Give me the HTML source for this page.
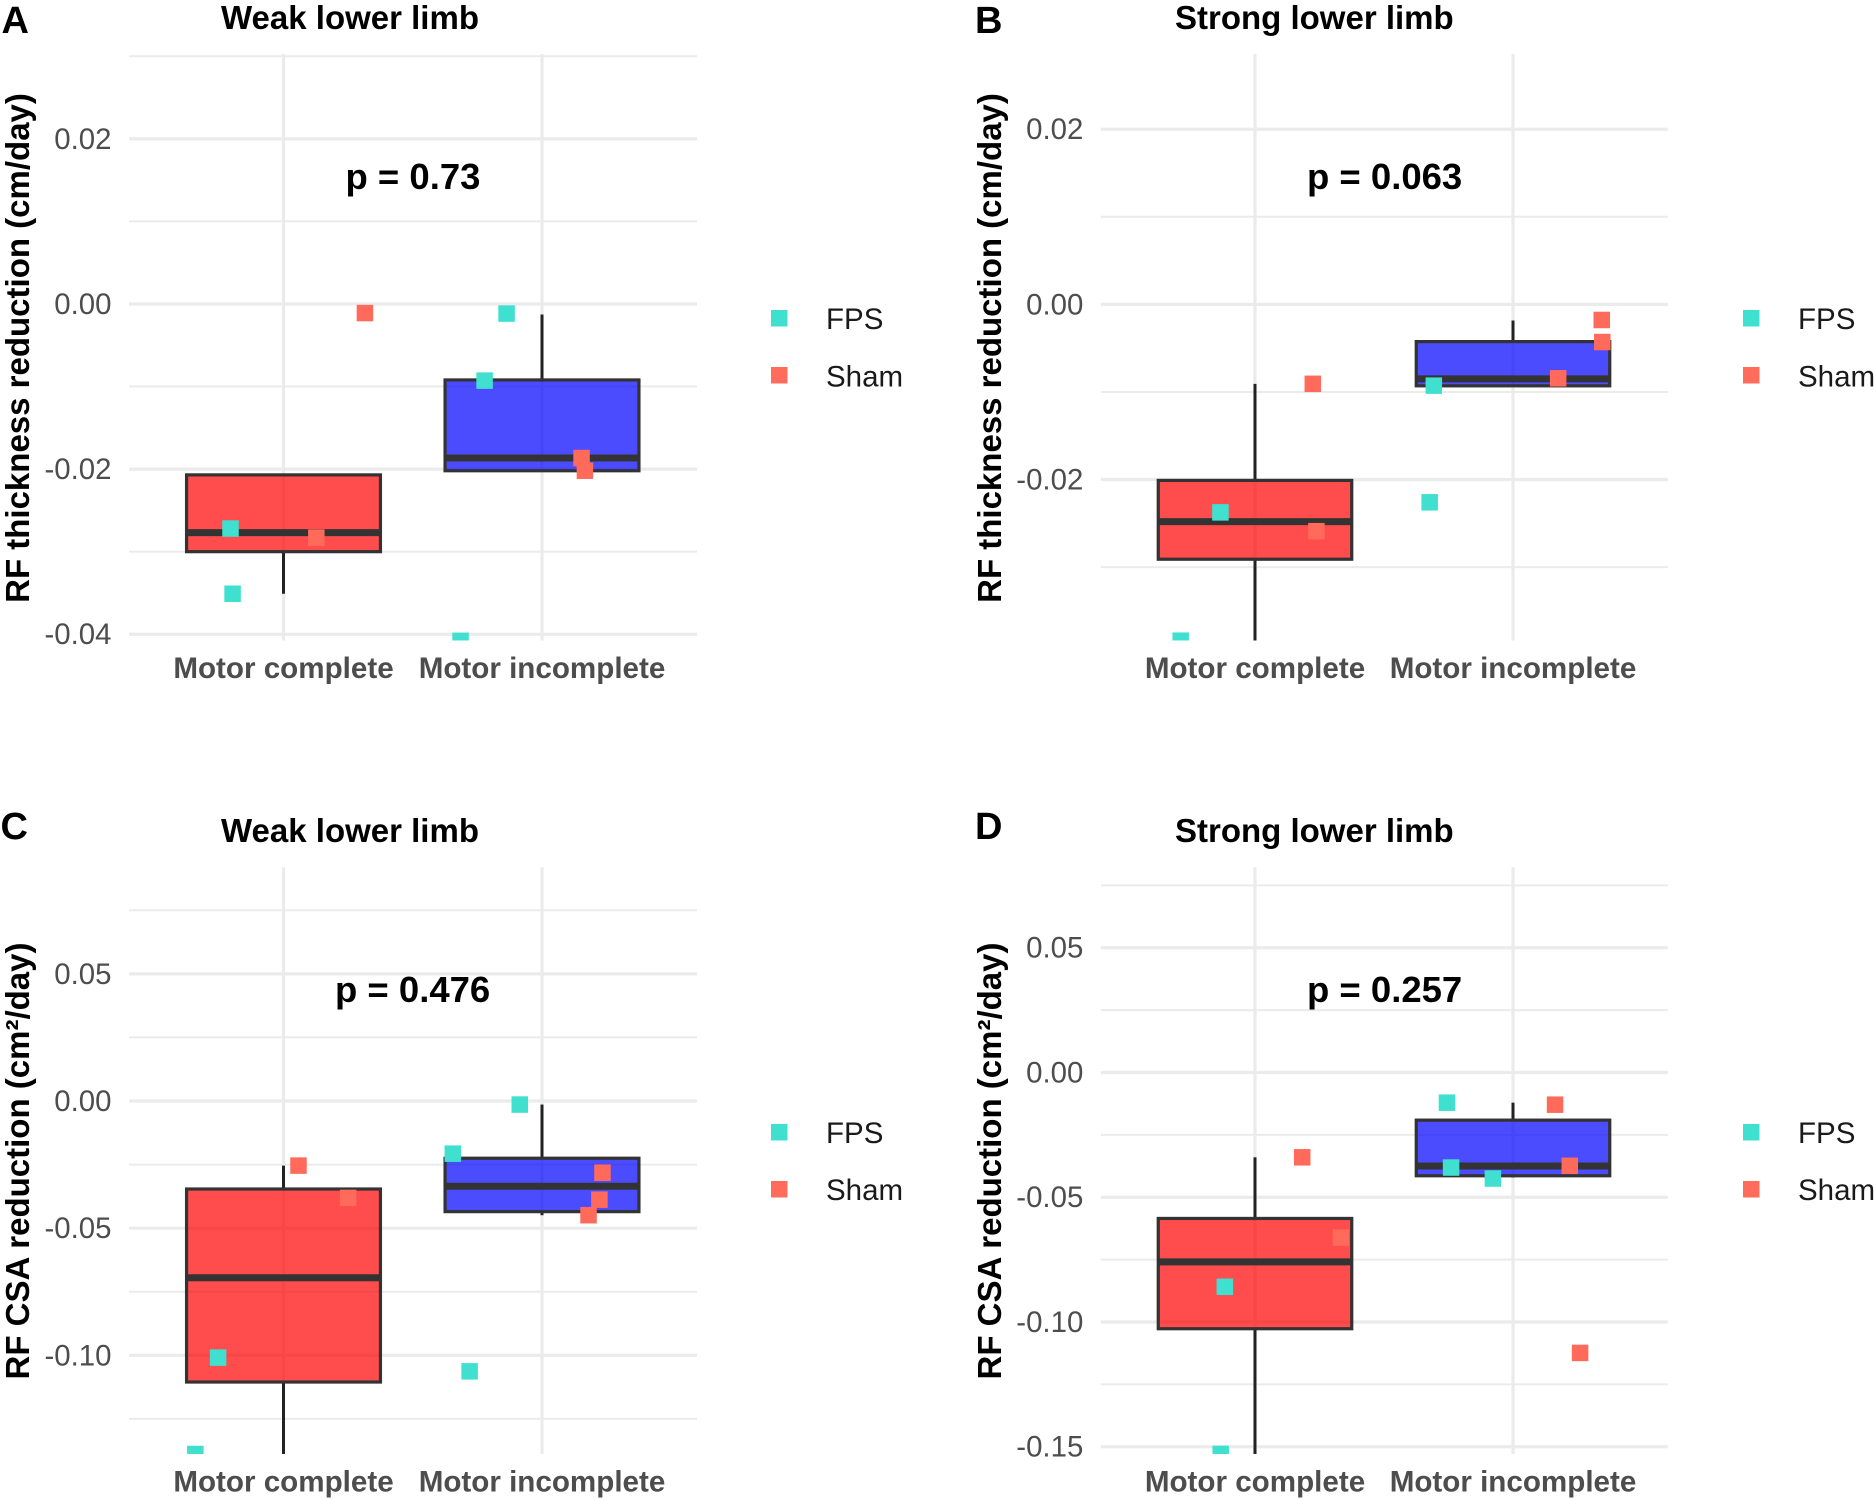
<!DOCTYPE html>
<html lang="en">
<head>
<meta charset="utf-8">
<title>RF thickness and CSA reduction</title>
<style>
html,body{margin:0;padding:0;background:#fff;width:1874px;height:1500px;overflow:hidden}
svg{display:block}
text{font-family:"Liberation Sans",Arial,sans-serif}
.panel-letter{font-size:38px;font-weight:700;fill:#000}
.title{font-size:33px;font-weight:700;fill:#000}
.p-label{font-size:36.5px;font-weight:700;fill:#000}
.y-title{font-size:33px;font-weight:700;fill:#000;text-anchor:middle}
.legend-text{font-size:29.5px;fill:#1a1a1a}
.tick{font-size:29.4px;fill:#4d4d4d;text-anchor:end}
.cat{font-size:29.6px;font-weight:700;fill:#4d4d4d;text-anchor:middle}
</style>
</head>
<body>
<svg id="figure" xmlns="http://www.w3.org/2000/svg" width="1874" height="1500" viewBox="0 0 1874 1500">
  <rect width="1874" height="1500" fill="#fff"/>

  <g id="panel-a">
    <text class="panel-letter" x="1.5" y="33">A</text>
    <text class="title" x="221" y="29">Weak lower limb</text>
    <text class="y-title" transform="translate(29,348) rotate(-90)">RF thickness reduction (cm/day)</text>
    <g class="marks"></g>
    <text class="p-label" x="345.5" y="189">p = 0.73</text>
    <rect x="771" y="310" width="16.5" height="16.5" fill="#40e0d0"/>
    <text class="legend-text" x="826" y="329">FPS</text>
    <rect x="771" y="367" width="16.5" height="16.5" fill="#ff6c5b"/>
    <text class="legend-text" x="826" y="386.5">Sham</text>
  </g>

  <g id="panel-b">
    <text class="panel-letter" x="975" y="33">B</text>
    <text class="title" x="1175" y="29">Strong lower limb</text>
    <text class="y-title" transform="translate(1001,348) rotate(-90)">RF thickness reduction (cm/day)</text>
    <g class="marks"></g>
    <text class="p-label" x="1307" y="189">p = 0.063</text>
    <rect x="1743" y="310" width="16.5" height="16.5" fill="#40e0d0"/>
    <text class="legend-text" x="1798" y="329">FPS</text>
    <rect x="1743" y="367" width="16.5" height="16.5" fill="#ff6c5b"/>
    <text class="legend-text" x="1798" y="386.5">Sham</text>
  </g>

  <g id="panel-c">
    <text class="panel-letter" x="0.5" y="839">C</text>
    <text class="title" x="221" y="842">Weak lower limb</text>
    <text class="y-title" transform="translate(29,1161) rotate(-90)">RF CSA reduction (cm²/day)</text>
    <g class="marks"></g>
    <text class="p-label" x="335" y="1002">p = 0.476</text>
    <rect x="771" y="1124" width="16.5" height="16.5" fill="#40e0d0"/>
    <text class="legend-text" x="826" y="1143">FPS</text>
    <rect x="771" y="1181" width="16.5" height="16.5" fill="#ff6c5b"/>
    <text class="legend-text" x="826" y="1200">Sham</text>
  </g>

  <g id="panel-d">
    <text class="panel-letter" x="975" y="839">D</text>
    <text class="title" x="1175" y="842">Strong lower limb</text>
    <text class="y-title" transform="translate(1001,1161) rotate(-90)">RF CSA reduction (cm²/day)</text>
    <g class="marks"></g>
    <text class="p-label" x="1307" y="1002">p = 0.257</text>
    <rect x="1743" y="1124" width="16.5" height="16.5" fill="#40e0d0"/>
    <text class="legend-text" x="1798" y="1143">FPS</text>
    <rect x="1743" y="1181" width="16.5" height="16.5" fill="#ff6c5b"/>
    <text class="legend-text" x="1798" y="1200">Sham</text>
  </g>
</svg>

<script>
const categories = ['Motor complete', 'Motor incomplete'];

// Panel A
const panelAYDomain = [-0.04076, 0.03028];
const panelATicks = [0.02, 0, -0.02, -0.04];
const panelATickLabels = ['0.02', '0.00', '-0.02', '-0.04'];
const panelAMinorTicks = [0.03, 0.01, -0.01, -0.03];
const panelALow = [-0.0351, -0.0202];
const panelAQ1 = [-0.0300, -0.0202];
const panelAMedian = [-0.0277, -0.01866];
const panelAQ3 = [-0.0207, -0.0092];
const panelAHigh = [-0.0207, -0.00127];
const panelAFpsX = [0.795, 0.803, 1.863, 1.778, 1.685];
const panelAFpsY = [-0.0272, -0.0351, -0.00116, -0.00928, -0.0408];
const panelAShamX = [1.315, 1.127, 2.153, 2.166];
const panelAShamY = [-0.0011, -0.0283, -0.01866, -0.0202];

// Panel B
const panelBYDomain = [-0.03838, 0.02859];
const panelBTicks = [0.02, 0, -0.02];
const panelBTickLabels = ['0.02', '0.00', '-0.02'];
const panelBMinorTicks = [0.01, -0.01, -0.03];
const panelBLow = [-0.0384, -0.0093];
const panelBQ1 = [-0.0291, -0.0093];
const panelBMedian = [-0.0248, -0.0085];
const panelBQ3 = [-0.0201, -0.00425];
const panelBHigh = [-0.00907, -0.00184];
const panelBFpsX = [0.866, 0.712, 1.693, 1.677];
const panelBFpsY = [-0.02375, -0.0384, -0.00928, -0.0226];
const panelBShamX = [1.224, 1.238, 2.175, 2.344, 2.346];
const panelBShamY = [-0.00907, -0.0259, -0.00844, -0.00178, -0.0043];

// Panel C
const panelCYDomain = [-0.1388, 0.09194];
const panelCTicks = [0.05, 0, -0.05, -0.1];
const panelCTickLabels = ['0.05', '0.00', '-0.05', '-0.10'];
const panelCMinorTicks = [0.075, 0.025, -0.025, -0.075, -0.125];
const panelCLow = [-0.1388, -0.0449];
const panelCQ1 = [-0.1105, -0.0435];
const panelCMedian = [-0.0695, -0.0335];
const panelCQ3 = [-0.0346, -0.0225];
const panelCHigh = [-0.0254, -0.0014];
const panelCFpsX = [0.747, 0.659, 1.914, 1.655, 1.72];
const panelCFpsY = [-0.1009, -0.1388, -0.0014, -0.0207, -0.1063];
const panelCShamX = [1.058, 1.25, 2.234, 2.222, 2.18];
const panelCShamY = [-0.0254, -0.0381, -0.0282, -0.0388, -0.0449];

// Panel D
const panelDYDomain = [-0.15291, 0.08228];
const panelDTicks = [0.05, 0, -0.05, -0.1, -0.15];
const panelDTickLabels = ['0.05', '0.00', '-0.05', '-0.10', '-0.15'];
const panelDMinorTicks = [0.075, 0.025, -0.025, -0.075, -0.125];
const panelDLow = [-0.1529, -0.0421];
const panelDQ1 = [-0.1027, -0.0414];
const panelDMedian = [-0.0759, -0.0375];
const panelDQ3 = [-0.0585, -0.0191];
const panelDHigh = [-0.034, -0.0121];
const panelDFpsX = [0.883, 0.867, 1.744, 1.76, 1.922];
const panelDFpsY = [-0.0859, -0.1529, -0.0121, -0.0381, -0.0425];
const panelDShamX = [1.183, 1.333, 2.163, 2.22, 2.26];
const panelDShamY = [-0.034, -0.0662, -0.0129, -0.0374, -0.1124];

const boxFills = ['#ff0000', '#0000ff'];
const NS = 'http://www.w3.org/2000/svg';

function make(tag, attrs, parent) {
  const node = document.createElementNS(NS, tag);
  for (const k in attrs) node.setAttribute(k, attrs[k]);
  parent.appendChild(node);
  return node;
}

function drawPanel(id, d, box) {
  const root = document.querySelector('#panel-' + id + ' .marks');
  const yScale = v => box.top + (d.domain[1] - v) / (d.domain[1] - d.domain[0]) * (box.bottom - box.top);
  const xScale = c => box.x1 + (c - 1) * box.band;

  const clip = make('clipPath', { id: 'clip-' + id }, root);
  make('rect', { x: box.left, y: box.top, width: box.right - box.left, height: box.bottom - box.top }, clip);

  d.minor.forEach(v => {
    const line = make('line', { x1: box.left, x2: box.right, y1: yScale(v), y2: yScale(v), stroke: '#ebebeb', 'stroke-width': 2 }, root);
    
    
  });
  d.ticks.forEach((v, i) => {
    const line = make('line', { x1: box.left, x2: box.right, y1: yScale(v), y2: yScale(v), stroke: '#ebebeb', 'stroke-width': 3.2 }, root);
    
    
    const label = make('text', { class: 'tick', x: box.left - 17.5, y: yScale(v) + 10 }, root);
    label.textContent = d.tickLabels[i];
    
    
  });
  categories.forEach((name, i) => {
    const line = make('line', { x1: xScale(i + 1), x2: xScale(i + 1), y1: box.top, y2: box.bottom, stroke: '#ebebeb', 'stroke-width': 3.2 }, root);
    
    
    const label = make('text', { class: 'cat', x: xScale(i + 1), y: box.bottom + 37.5 }, root);
    label.textContent = name;
    
    
  });

  const plot = make('g', { 'clip-path': 'url(#clip-' + id + ')' }, root);
  
  

  categories.forEach((name, i) => {
    const cx = xScale(i + 1);
    const half = box.band * 0.375;
    const upper = make('line', { x1: cx, x2: cx, y1: yScale(d.q3[i]), y2: yScale(d.high[i]), stroke: '#222', 'stroke-width': 3 }, plot);
    
    
    const lower = make('line', { x1: cx, x2: cx, y1: yScale(d.q1[i]), y2: yScale(d.low[i]), stroke: '#222', 'stroke-width': 3 }, plot);
    
    
    const rect = make('rect', {
      x: cx - half, width: half * 2,
      y: yScale(d.q3[i]), height: yScale(d.q1[i]) - yScale(d.q3[i]),
      fill: boxFills[i], 'fill-opacity': 0.7, stroke: '#333', 'stroke-width': 3.2
    }, plot);
    
    
    const med = make('line', { x1: cx - half, x2: cx + half, y1: yScale(d.median[i]), y2: yScale(d.median[i]), stroke: '#333', 'stroke-width': 7 }, plot);
    
    
  });

  const size = 16.5;
  d.fpsX.forEach((c, i) => {
    const p = make('rect', { x: xScale(c) - size / 2, y: yScale(d.fpsY[i]) - size / 2, width: size, height: size, fill: '#40e0d0' }, plot);
    
    
  });
  d.shamX.forEach((c, i) => {
    const p = make('rect', { x: xScale(c) - size / 2, y: yScale(d.shamY[i]) - size / 2, width: size, height: size, fill: '#ff6a5a' }, plot);
    
    
  });
}

drawPanel('a', { domain: panelAYDomain, ticks: panelATicks, tickLabels: panelATickLabels, minor: panelAMinorTicks,
  low: panelALow, q1: panelAQ1, median: panelAMedian, q3: panelAQ3, high: panelAHigh,
  fpsX: panelAFpsX, fpsY: panelAFpsY, shamX: panelAShamX, shamY: panelAShamY },
  { left: 129, right: 697, top: 54, bottom: 640.5, x1: 283.5, band: 258.5 });

drawPanel('b', { domain: panelBYDomain, ticks: panelBTicks, tickLabels: panelBTickLabels, minor: panelBMinorTicks,
  low: panelBLow, q1: panelBQ1, median: panelBMedian, q3: panelBQ3, high: panelBHigh,
  fpsX: panelBFpsX, fpsY: panelBFpsY, shamX: panelBShamX, shamY: panelBShamY },
  { left: 1100.8, right: 1667.8, top: 54, bottom: 640.5, x1: 1255, band: 258 });

drawPanel('c', { domain: panelCYDomain, ticks: panelCTicks, tickLabels: panelCTickLabels, minor: panelCMinorTicks,
  low: panelCLow, q1: panelCQ1, median: panelCMedian, q3: panelCQ3, high: panelCHigh,
  fpsX: panelCFpsX, fpsY: panelCFpsY, shamX: panelCShamX, shamY: panelCShamY },
  { left: 129, right: 697, top: 867.2, bottom: 1454, x1: 283.5, band: 258.5 });

drawPanel('d', { domain: panelDYDomain, ticks: panelDTicks, tickLabels: panelDTickLabels, minor: panelDMinorTicks,
  low: panelDLow, q1: panelDQ1, median: panelDMedian, q3: panelDQ3, high: panelDHigh,
  fpsX: panelDFpsX, fpsY: panelDFpsY, shamX: panelDShamX, shamY: panelDShamY },
  { left: 1100.8, right: 1667.8, top: 867.2, bottom: 1454, x1: 1255, band: 258 });
</script>
</body>
</html>
